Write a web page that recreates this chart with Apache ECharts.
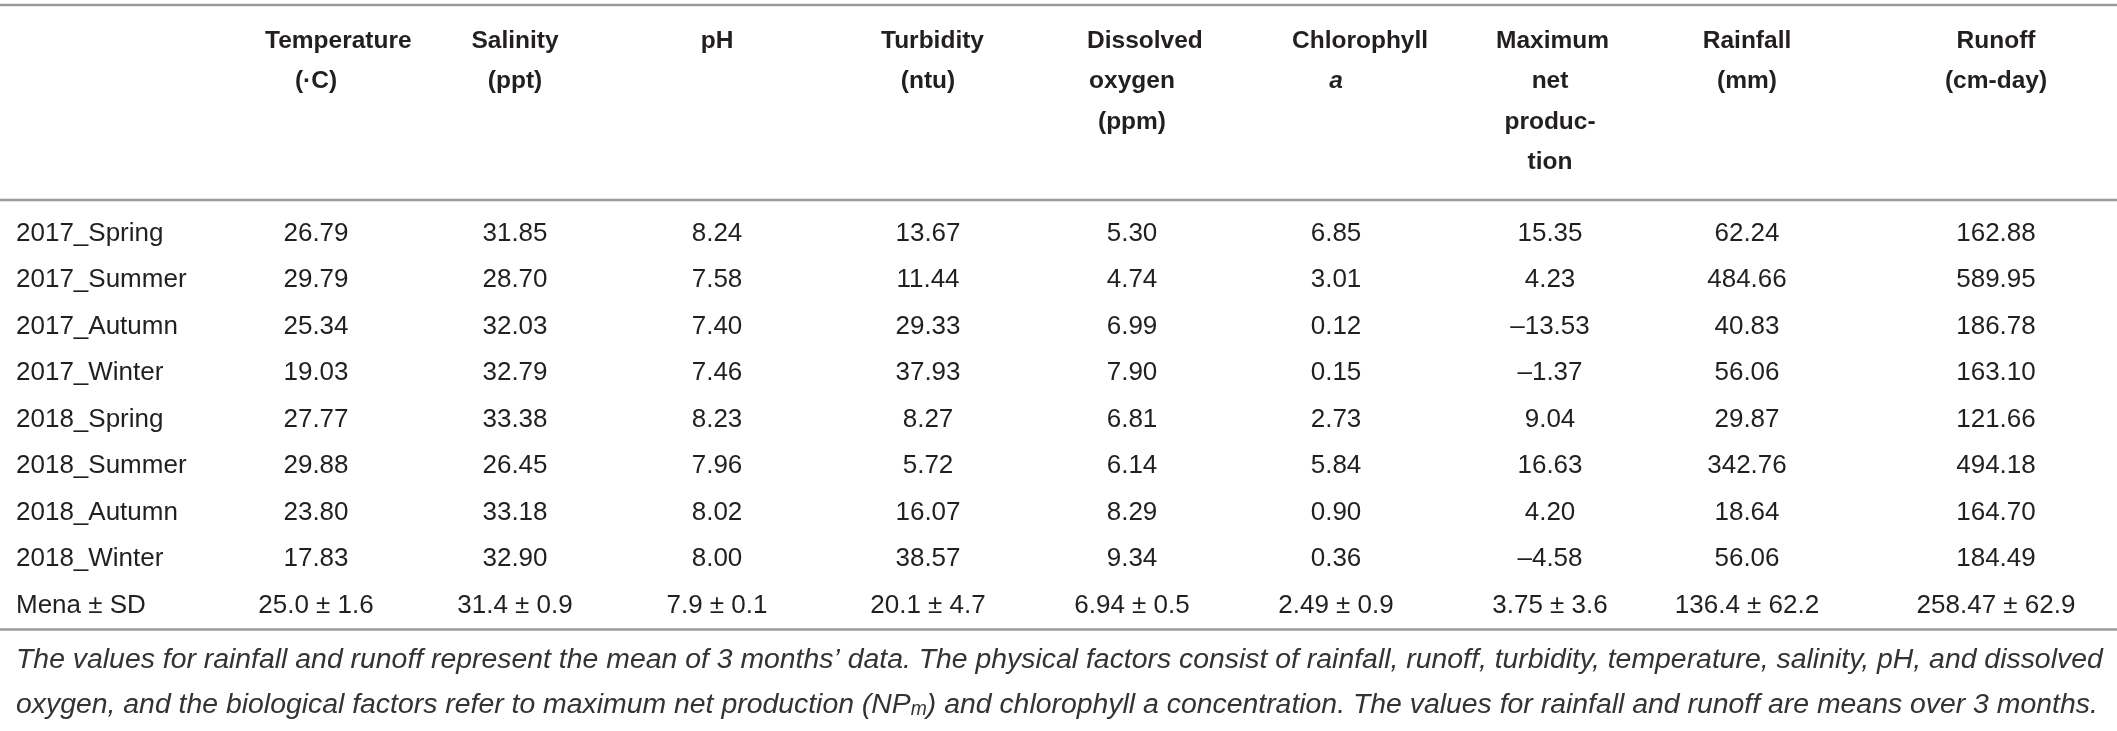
<!DOCTYPE html>
<html><head><meta charset="utf-8">
<script src="https://cdn.jsdelivr.net/npm/echarts@6/dist/echarts.min.js"></script>
<style>html,body{margin:0;padding:0;background:#fff}#c{width:2117px;height:731px}</style>
</head><body><div id="c"></div>
<script>
const rowLabels = ['2017_Spring','2017_Summer','2017_Autumn','2017_Winter','2018_Spring','2018_Summer','2018_Autumn','2018_Winter','Mena ± SD'];
const headerLines = [
  ['Temperature','(·C)'],
  ['Salinity','(ppt)'],
  ['pH'],
  ['Turbidity','(ntu)'],
  ['Dissolved','oxygen','(ppm)'],
  ['Chlorophyll','a'],
  ['Maximum','net','produc-','tion'],
  ['Rainfall','(mm)'],
  ['Runoff','(cm-day)']
];
const temperature = [26.79,29.79,25.34,19.03,27.77,29.88,23.80,17.83];
const salinity = [31.85,28.70,32.03,32.79,33.38,26.45,33.18,32.90];
const pH = [8.24,7.58,7.40,7.46,8.23,7.96,8.02,8.00];
const turbidity = [13.67,11.44,29.33,37.93,8.27,5.72,16.07,38.57];
const dissolvedOxygen = [5.30,4.74,6.99,7.90,6.81,6.14,8.29,9.34];
const chlorophyllA = [6.85,3.01,0.12,0.15,2.73,5.84,0.90,0.36];
const maxNetProduction = [15.35,4.23,-13.53,-1.37,9.04,16.63,4.20,-4.58];
const rainfall = [62.24,484.66,40.83,56.06,29.87,342.76,18.64,56.06];
const runoff = [162.88,589.95,186.78,163.10,121.66,494.18,164.70,184.49];
const meanValues = ['25.0','31.4','7.9','20.1','6.94','2.49','3.75','136.4','258.47'];
const sdValues = ['1.6','0.9','0.1','4.7','0.5','0.9','3.6','62.2','62.9'];
const footnoteLines = [
  "The values for rainfall and runoff represent the mean of 3 months’ data. The physical factors consist of rainfall, runoff, turbidity, temperature, salinity, pH, and dissolved",
  "oxygen, and the biological factors refer to maximum net production (NP{sub|m}) and chlorophyll a concentration. The values for rainfall and runoff are means over 3 months."
];

// layout (not data)
const W = 2117, H = 731;
const colX = [316, 515, 717, 928, 1132, 1336, 1550, 1747, 1996];
// first header lines that overflow their cell are left-aligned at this x (null = centred)
const headerLeft = [265, null, null, 881, 1087, 1292, 1496, null, null];
const FONT = "'Liberation Sans', Arial, Helvetica, sans-serif";
const TXT = '#231f20';
const FS = 26, HFS = 24.5;
const headerY0 = 41, headerDY = 40.5;
const ruleColor = '#9b9b9b';

const columns = [temperature, salinity, pH, turbidity, dissolvedOxygen, chlorophyllA, maxNetProduction, rainfall, runoff];
const fmt = v => (v < 0 ? '\u2013' : '') + Math.abs(v).toFixed(2);

const ctx = document.createElement('canvas').getContext('2d');
function textW(t, font) { ctx.font = font; return ctx.measureText(t).width; }

const graphics = [];
[5, 200, 629.5].forEach(y => graphics.push({
  type: 'line', silent: true,
  shape: { x1: 0, y1: y, x2: W, y2: y },
  style: { stroke: ruleColor, lineWidth: 2.5 }
}));
headerLines.forEach((lines, j) => {
  lines.forEach((t, k) => {
    const italic = (j === 5 && k === 1);
    const left = (k === 0 && headerLeft[j] != null);
    graphics.push({
      type: 'text', silent: true,
      style: {
        text: t,
        x: left ? headerLeft[j] : colX[j],
        y: headerY0 + k * headerDY,
        align: left ? 'left' : 'center',
        verticalAlign: 'middle',
        fontFamily: FONT, fontSize: HFS, fontWeight: 'bold',
        fontStyle: italic ? 'italic' : 'normal',
        fill: TXT
      }
    });
  });
});
const footFS0 = 24;
const footX = 16, footRight = 2104;
const footFS = footFS0 * (footRight - footX) / textW(footnoteLines[0], 'italic ' + footFS0 + 'px ' + FONT);
footnoteLines.forEach((t, k) => {
  graphics.push({
    type: 'text', silent: true,
    style: {
      text: t, x: footX, y: 660 + k * 45,
      align: 'left', verticalAlign: 'middle',
      fontFamily: FONT, fontSize: footFS, fontStyle: 'italic', fill: '#333333',
      rich: {
        sub: { fontFamily: FONT, fontSize: footFS * 0.68, fontStyle: 'italic', fill: '#333333', verticalAlign: 'bottom' }
      }
    }
  });
});

const series = columns.map((vals, j) => ({
  type: 'scatter',
  symbolSize: 0,
  silent: true,
  itemStyle: { opacity: 1 },
  data: vals.map((v, i) => ({ value: [colX[j], i], text: fmt(v) }))
    .concat([{ value: [colX[j], rowLabels.length - 1], text: meanValues[j] + ' ± ' + sdValues[j] }]),
  label: {
    show: true, position: 'inside', opacity: 1,
    formatter: p => p.data.text,
    fontFamily: FONT, fontSize: FS, color: TXT
  }
}));

const chart = echarts.init(document.getElementById('c'), null, { renderer: 'canvas' });
chart.setOption({
  animation: false,
  backgroundColor: '#fff',
  grid: { left: 0, right: 0, top: 210.5, bottom: H - 629 },
  xAxis: { type: 'value', min: 0, max: W, show: false },
  yAxis: {
    type: 'category', inverse: true, data: rowLabels,
    axisLine: { show: false }, axisTick: { show: false }, splitLine: { show: false },
    axisLabel: { inside: true, margin: 16, fontFamily: FONT, fontSize: FS, color: TXT }
  },
  series: series,
  graphic: graphics
});
</script></body></html>
